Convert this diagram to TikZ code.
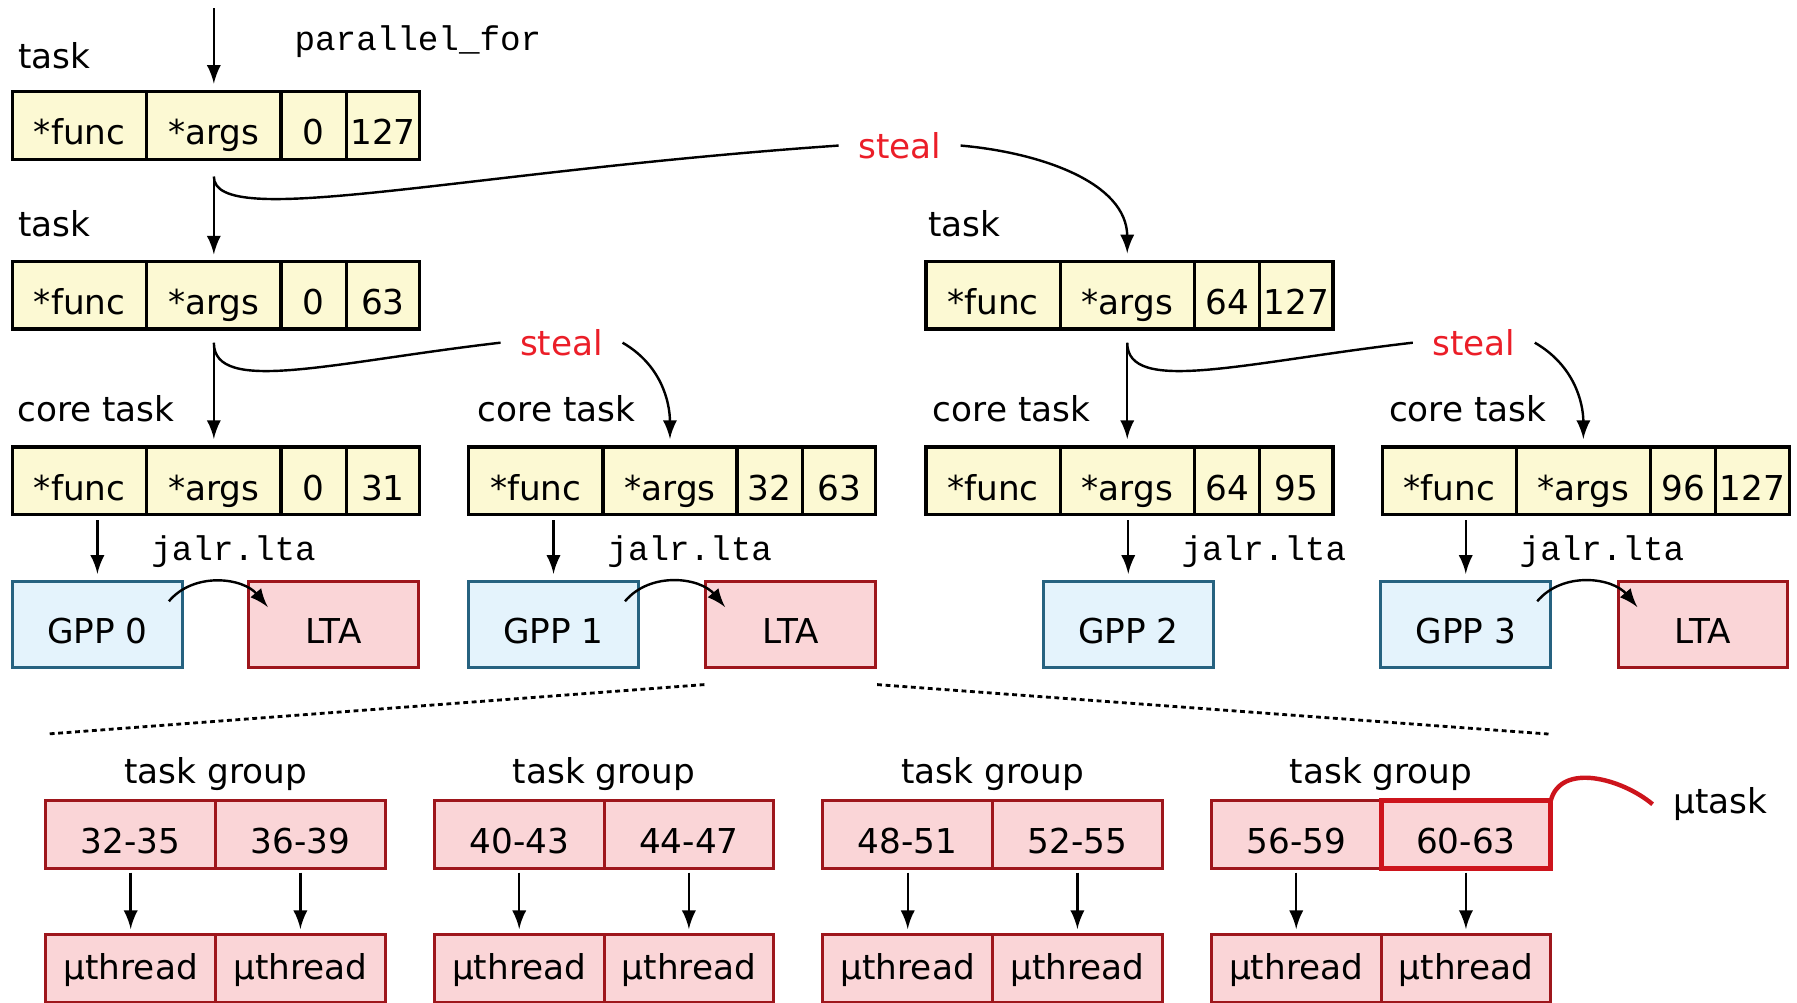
\documentclass[tikz,border=0pt]{standalone}
\usepackage{fontspec}
\setmainfont{DejaVu Sans}
\setmonofont{Liberation Mono}
\usetikzlibrary{positioning,calc}
\definecolor{taskfill}{RGB}{252,249,211}
\definecolor{gppfill}{RGB}{228,243,252}
\definecolor{gppline}{RGB}{38,98,128}
\definecolor{ltafill}{RGB}{250,213,215}
\definecolor{ltaline}{RGB}{158,22,28}
\definecolor{stealred}{RGB}{235,30,40}
\definecolor{mured}{RGB}{205,20,28}
\newcommand{\taskrec}[4]{%
 \node[cell, minimum width=1.17cm, anchor=west] (#1f) at #2 {*func};
 \node[cell, minimum width=1.17cm, right=0pt of #1f] (#1a) {*args};
 \node[cell, minimum width=0.57cm, right=0pt of #1a] (#1l) {#3};
 \node[cell, minimum width=0.64cm, right=0pt of #1l] (#1h) {#4};}
\newcommand{\taskgrp}[4]{%
 \node[grp, anchor=west] (#1a) at #2 {#3};
 \node[grp, right=0pt of #1a] (#1b) {#4};
 \node[anchor=base, inner sep=0pt] (#1t) at ($(#1a.north east)+(0,-15)$) {task group};
 \node[grp, text height=0.74em, text depth=0.2em, below=0.58cm of #1a] (#1c) {µthread};
 \node[grp, text height=0.74em, text depth=0.2em, below=0.58cm of #1b] (#1d) {µthread};
 \draw[->, shorten <=1.1pt, shorten >=1.4pt] (#1a) -- (#1c);
 \draw[->, shorten <=1.1pt, shorten >=1.4pt] (#1b) -- (#1d);}

\begin{document}
\begin{tikzpicture}[x=0.01cm, y=-0.01cm, >=latex, semithick,
 font=\fontsize{8.5pt}{10pt}\selectfont,
 cell/.style={draw, line width=0.8pt, fill=taskfill, minimum height=0.59cm, inner sep=0pt, outer sep=0pt,
   text height=0.96em, text depth=0pt},
 core/.style={draw=gppline, line width=0.75pt, fill=gppfill, minimum width=1.48cm, minimum height=0.75cm,
   text height=0.96em, text depth=0pt},
 lta/.style={draw=ltaline, line width=0.75pt, fill=ltafill, minimum width=1.48cm, minimum height=0.75cm,
   text height=0.96em, text depth=0pt},
 grp/.style={draw=ltaline, line width=0.75pt, fill=ltafill, minimum width=1.48cm, minimum height=0.59cm,
   inner sep=0pt, outer sep=0pt, text height=0.96em, text depth=0pt},
 lbl/.style={anchor=base west, inner sep=0pt},
 code/.style={anchor=base west, inner sep=0pt, font=\fontsize{8.5pt}{10pt}\selectfont\ttfamily},
 steal/.style={text=stealred, inner sep=0.16cm},
 dotline/.style={line width=0.7pt, dash pattern=on 1.2pt off 0.9pt}]
\useasboundingbox (0,0) rectangle (1568,875);

\node[lbl] (t0) at (15,60) {task};
\node[code] (pf) at (256,44) {parallel\_for};
\taskrec{A}{(11,109.5)}{0}{127}
\coordinate (top) at ($(Aa.north)+(0,-73)$);
\draw[->, shorten >=0.07cm] (top) -- (Aa.north);

\node[lbl] (t1) at (15,206) {task};
\node[lbl] (t2) at (809,206) {task};
\taskrec{B}{(11,257.5)}{0}{63}
\taskrec{R}{(808,257.5)}{64}{127}
\node[steal] (s0) at (785,127) {steal};
\coordinate (sA) at ($(Aa.south)+(0,15)$);
\draw[->, shorten >=0.06cm] (sA) -- (Ba.north);
\draw (sA) .. controls +(0,48) and (400,150) .. (s0.west);
\draw[->, shorten >=0.07cm] (s0.east) to[out=-5, in=90] (Ra.north);

\node[lbl] (c0) at (14,368) {core task};
\node[lbl] (c1) at (416,368) {core task};
\node[lbl] (c2) at (813,368) {core task};
\node[lbl] (c3) at (1211,368) {core task};
\taskrec{C}{(11,419.5)}{0}{31}
\taskrec{D}{(409,419.5)}{32}{63}
\taskrec{E}{(808,419.5)}{64}{95}
\taskrec{F}{(1206,419.5)}{96}{127}
\node[steal] (s1) at (490,299) {steal};
\node[steal] (s2) at (1286,299) {steal};
\coordinate (sB) at ($(Ba.south)+(0,12)$);
\coordinate (sR) at ($(Ra.south)+(0,12)$);
\draw[->, shorten >=0.07cm] (sB) -- (Ca.north);
\draw (sB) .. controls +(0,46) and (290,316) .. (s1.west);
\draw[->, shorten >=0.07cm] (s1.east) to[out=-30, in=90] (Da.north);
\draw[->, shorten >=0.07cm] (sR) -- (Ea.north);
\draw (sR) .. controls +(0,46) and (1086,316) .. (s2.west);
\draw[->, shorten >=0.07cm] (s2.east) to[out=-30, in=90] (Fa.north);

\node[core] (g0) at (85,544.5) {GPP 0};
\node[lta] (l0) at (291,544.5) {LTA};
\node[core] (g1) at (483,544.5) {GPP 1};
\node[lta] (l1) at (690,544.5) {LTA};
\node[core] (g2) at (984.5,544.5) {GPP 2};
\node[core] (g3) at (1279,544.5) {GPP 3};
\node[lta] (l3) at (1486,544.5) {LTA};
\draw[->, shorten <=0.05cm, shorten >=0.05cm] (g0 |- Cf.south) -- (g0);
\draw[->, shorten <=0.05cm, shorten >=0.05cm] (g1 |- Df.south) -- (g1);
\draw[->, shorten <=0.05cm, shorten >=0.05cm] (g2 |- Ef.south) -- (g2);
\draw[->, shorten <=0.05cm, shorten >=0.05cm] (g3 |- Ff.south) -- (g3);
\node[code] (j0) at (131,489) {jalr.lta};
\node[code] (j1) at (529,489) {jalr.lta};
\node[code] (j2) at (1030,489) {jalr.lta};
\node[code] (j3) at (1325,489) {jalr.lta};
\draw[->] ($(g0.north east)+(-13,19)$) to[out=50, in=130] ($(l0.north west)+(18,24)$);
\draw[->] ($(g1.north east)+(-13,19)$) to[out=50, in=130] ($(l1.north west)+(18,24)$);
\draw[->] ($(g3.north east)+(-13,19)$) to[out=50, in=130] ($(l3.north west)+(18,24)$);

\taskgrp{G}{(40,728)}{32-35}{36-39}
\taskgrp{H}{(379,728)}{40-43}{44-47}
\taskgrp{I}{(718,728)}{48-51}{52-55}
\taskgrp{J}{(1057,728)}{56-59}{60-63}
\draw[mured, line width=1.2pt] (Jb.north west) rectangle (Jb.south east);
\coordinate (dL) at ($(Ga.north west)+(1,-58)$);
\coordinate (dR) at ($(Jb.north east)+(-2,-58)$);
\draw[dotline] ([yshift=-0.14cm]l1.south west) -- (dL);
\draw[dotline] ([yshift=-0.14cm]l1.south east) -- (dR);
\node[lbl] (mu) at (1459,710) {µtask};
\draw[mured, line width=1.1pt] (Jb.north east) to[out=75, in=140] ($(mu.west)+(-17,0)$);
\end{tikzpicture}
\end{document}
